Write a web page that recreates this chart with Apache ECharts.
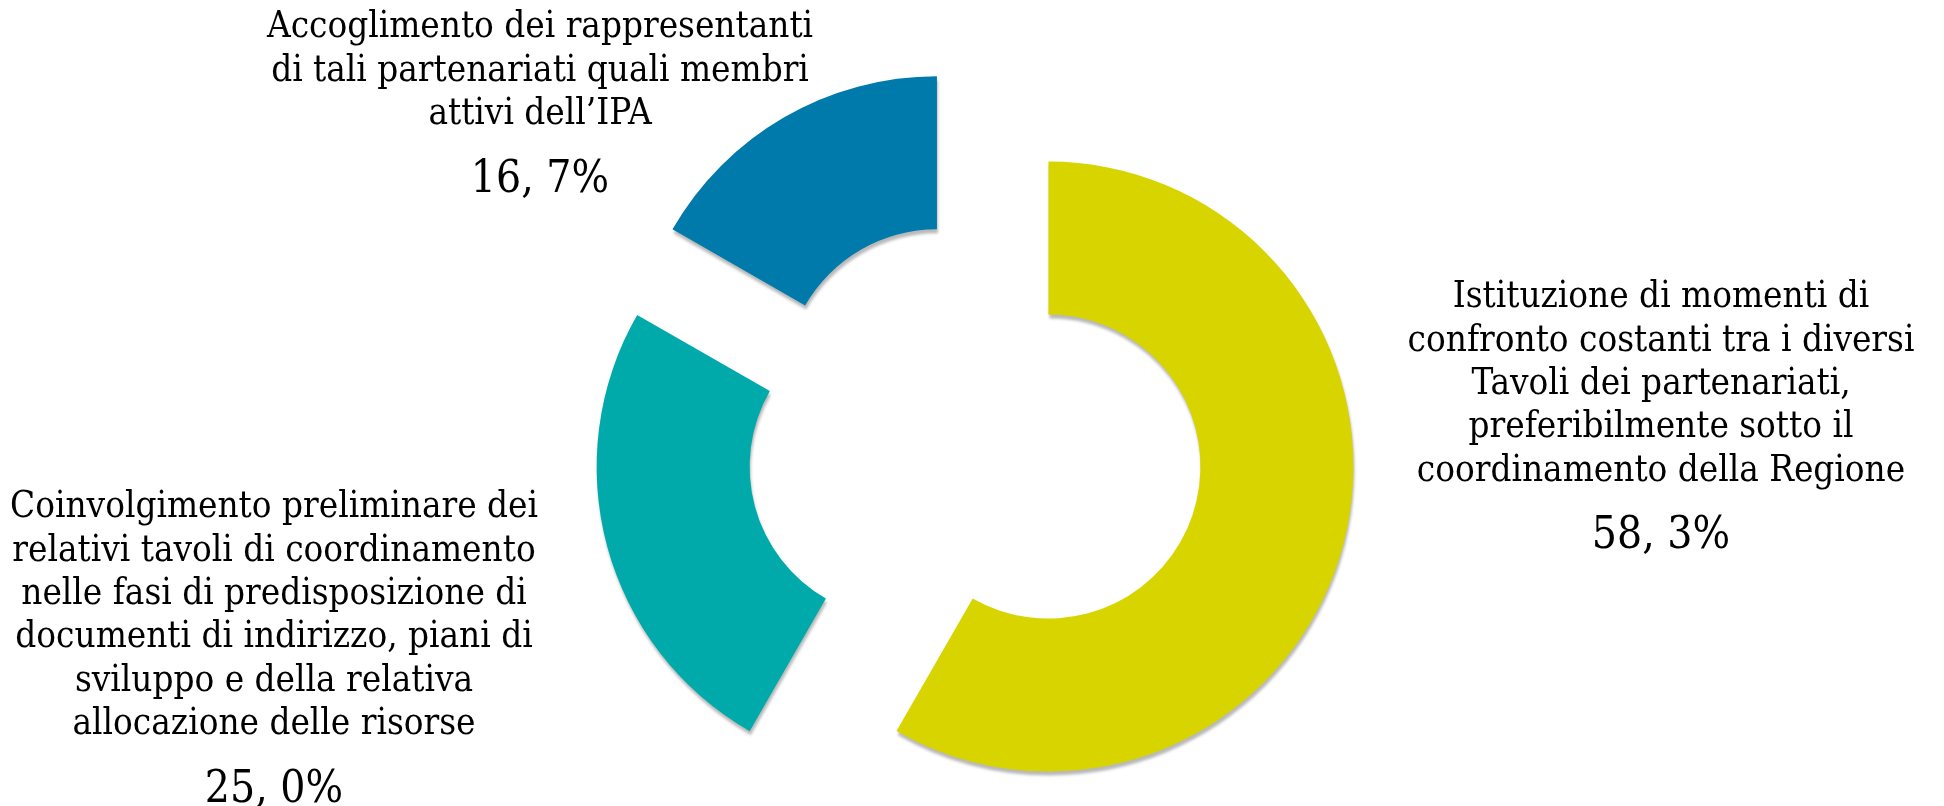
<!DOCTYPE html>
<html>
<head>
<meta charset="utf-8">
<script src="https://cdn.jsdelivr.net/npm/echarts@6/dist/echarts.min.js"></script>
<style>
html,body{margin:0;padding:0;background:#fff;}
#chart{width:1944px;height:806px;}
</style>
</head>
<body>
<div id="chart"></div>
<script>
// Data
const categories = [
  "Istituzione di momenti di\nconfronto costanti tra i diversi\nTavoli dei partenariati,\npreferibilmente sotto il\ncoordinamento della Regione",
  "Coinvolgimento preliminare dei\nrelativi tavoli di coordinamento\nnelle fasi di predisposizione di\ndocumenti di indirizzo, piani di\nsviluppo e della relativa\nallocazione delle risorse",
  "Accoglimento dei rappresentanti\ndi tali partenariati quali membri\nattivi dell\u2019IPA"
];
const values = [58.3, 25.0, 16.7];
const colors = ["#D8D400", "#00AAAA", "#007AAB"];

// Label anchor positions (layout only: top-centre of each text block)
const labelPos = [
  {x: 1661, y: 276},
  {x: 274, y: 486},
  {x: 540, y: 6}
];

const chart = echarts.init(document.getElementById('chart'));
const FONT = "'DejaVu Serif Condensed', 'DejaVu Serif', serif";

function fmtValue(v) {
  return v.toFixed(1).replace('.', ', ') + '%';
}

const labelGraphics = categories.map((c, i) => {
  const lines = c.split('\n').map(l => '{n|' + l + '}').join('\n');
  return {
    type: 'text',
    z: 100,
    x: labelPos[i].x,
    y: labelPos[i].y,
    style: {
      text: lines + '\n{v|' + fmtValue(values[i]) + '}',
      align: 'center',
      verticalAlign: 'top',
      fill: '#000',
      rich: {
        n: {fontFamily: FONT, fontSize: 36.5, lineHeight: 43.4, fill: '#000', align: 'center'},
        v: {fontFamily: FONT, fontSize: 44, lineHeight: 88, fill: '#000', align: 'center'}
      }
    }
  };
});

chart.setOption({
  animation: false,
  backgroundColor: '#ffffff',
  graphic: labelGraphics,
  series: [{
    type: 'pie',
    center: [975, 447],
    radius: [152, 305],
    startAngle: 90,
    clockwise: true,
    selectedMode: 'multiple',
    selectedOffset: 76,
    avoidLabelOverlap: false,
    emphasis: {scale: false, disabled: true},
    itemStyle: {
      shadowColor: 'rgba(0,0,0,0.28)',
      shadowBlur: 3,
      shadowOffsetX: 1,
      shadowOffsetY: 4
    },
    label: {show: false},
    labelLine: {show: false},
    data: categories.map((c, i) => ({
      name: c,
      value: values[i],
      selected: true,
      itemStyle: {color: colors[i]},
      select: {itemStyle: {color: colors[i]}}
    }))
  }]
});
</script>
</body>
</html>
